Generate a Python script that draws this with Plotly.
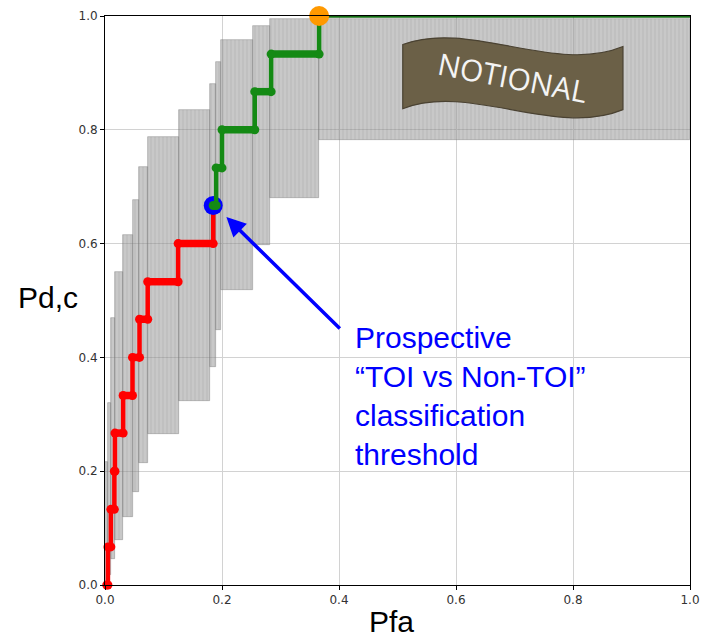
import plotly.graph_objects as go

# ---- data ----
red_pfa = [0.003, 0.005, 0.010, 0.016, 0.017, 0.031, 0.047, 0.059, 0.073, 0.125, 0.185]
red_pd = [0.0, 0.067, 0.133, 0.200, 0.267, 0.333, 0.400, 0.467, 0.533, 0.600, 0.667]

green_pfa = [0.185, 0.190, 0.200, 0.256, 0.284, 0.366, 1.0]
green_pd = [0.667, 0.733, 0.800, 0.867, 0.933, 1.000, 1.000]

band_left = [0.0, 0.0056, 0.011, 0.0166, 0.031, 0.048, 0.058, 0.0735, 0.1265, 0.179, 0.190, 0.199, 0.253, 0.282, 0.366]
band_right = [0.0056, 0.011, 0.0166, 0.031, 0.048, 0.058, 0.0735, 0.1265, 0.179, 0.190, 0.199, 0.253, 0.282, 0.366, 1.0]
band_lower = [0.0, 0.017, 0.045, 0.079, 0.120, 0.164, 0.214, 0.266, 0.323, 0.384, 0.449, 0.519, 0.598, 0.680, 0.782]
band_upper = [0.216, 0.319, 0.470, 0.550, 0.615, 0.677, 0.734, 0.787, 0.835, 0.881, 0.920, 0.957, 0.982, 0.995, 0.995]

threshold_pt = (0.185, 0.667)
best_pt = (0.366, 1.0)

tick_vals = [0.0, 0.2, 0.4, 0.6, 0.8, 1.0]
tick_text = ["0.0", "0.2", "0.4", "0.6", "0.8", "1.0"]

fig = go.Figure()

# confidence band
fig.add_trace(go.Bar(
    x=[(l + r) / 2 for l, r in zip(band_left, band_right)],
    width=[r - l for l, r in zip(band_left, band_right)],
    base=band_lower,
    y=[u - lo for u, lo in zip(band_upper, band_lower)],
    marker=dict(color="rgba(145,145,145,0.5)",
                line=dict(color="rgba(115,115,115,0.55)", width=0.7),
                pattern=dict(shape="|", fgcolor="rgba(100,100,100,0.4)", size=4,
                             solidity=0.2, fillmode="overlay")),
    hoverinfo="skip", showlegend=False))


def horiz_segments(xs, ys, n):
    hx, hy = [], []
    for i in range(n):
        hx += [xs[i], xs[i + 1], None]
        hy += [ys[i], ys[i], None]
    return hx, hy


def end_points(xs, ys, n):
    mx, my = [], []
    for i in range(n):
        mx += [xs[i], xs[i + 1]]
        my += [ys[i], ys[i]]
    return mx, my


# red ROC
fig.add_trace(go.Scatter(x=red_pfa, y=red_pd, mode="lines", line=dict(color="#ff0000", width=4.5, shape="hv"),
                         cliponaxis=False, showlegend=False, hoverinfo="skip"))
hx, hy = horiz_segments(red_pfa, red_pd, len(red_pfa) - 1)
fig.add_trace(go.Scatter(x=hx, y=hy, mode="lines", line=dict(color="#ff0000", width=7.5),
                         cliponaxis=False, showlegend=False, hoverinfo="skip"))
mx, my = end_points(red_pfa, red_pd, len(red_pfa) - 1)
fig.add_trace(go.Scatter(x=mx, y=my, mode="markers", marker=dict(color="#ff0000", size=9),
                         cliponaxis=False, showlegend=False, hoverinfo="skip"))

# threshold point (blue)
fig.add_trace(go.Scatter(x=[threshold_pt[0]], y=[threshold_pt[1]], mode="markers",
                         marker=dict(color="#0000ff", size=19), cliponaxis=False,
                         showlegend=False, hoverinfo="skip"))

# green ROC
fig.add_trace(go.Scatter(x=green_pfa[:-1], y=green_pd[:-1], mode="lines",
                         line=dict(color="#148a14", width=4.5, shape="hv"),
                         cliponaxis=False, showlegend=False, hoverinfo="skip"))
fig.add_trace(go.Scatter(x=green_pfa[-2:], y=green_pd[-2:], mode="lines",
                         line=dict(color="#126b12", width=3.5),
                         cliponaxis=False, showlegend=False, hoverinfo="skip"))
n_g = len(green_pfa) - 2
hx, hy = horiz_segments(green_pfa, green_pd, n_g)
fig.add_trace(go.Scatter(x=hx, y=hy, mode="lines", line=dict(color="#148a14", width=7.5),
                         cliponaxis=False, showlegend=False, hoverinfo="skip"))
mx, my = end_points(green_pfa, green_pd, n_g)
fig.add_trace(go.Scatter(x=mx, y=my, mode="markers", marker=dict(color="#148a14", size=9),
                         cliponaxis=False, showlegend=False, hoverinfo="skip"))

# best point (orange)
fig.add_trace(go.Scatter(x=[best_pt[0]], y=[best_pt[1]], mode="markers",
                         marker=dict(color="#ff9900", size=20), cliponaxis=False,
                         showlegend=False, hoverinfo="skip"))

# NOTIONAL banner
banner_path = ("M 0.509 0.9498 C 0.6237 0.9938 0.7691 0.8970 0.8854 0.9463 "
               "L 0.8854 0.8354 C 0.7691 0.7861 0.6237 0.8830 0.509 0.8371 Z")
fig.add_shape(type="path", path=banner_path, xref="x", yref="y",
              fillcolor="#6b6047", line=dict(color="#4a4232", width=1.2), layer="above")
fig.add_annotation(x=0.697, y=0.892, xref="x", yref="y", text="NOTIONAL", showarrow=False,
                   xanchor="center", yanchor="middle",
                   textangle=11, font=dict(family="Open Sans", size=30, color="#f4f4f4"))

# arrow
fig.add_annotation(x=0.2075, y=0.6466, xref="x", yref="y", ax=0.404, ay=0.448, axref="x", ayref="y",
                   text="", showarrow=True, arrowhead=2, arrowsize=1.1, arrowwidth=3.5,
                   arrowcolor="#0000ff", standoff=0)
fig.add_annotation(x=0.424, y=0.468, xref="x", yref="y", xanchor="left", yanchor="top", align="left",
                   text="Prospective<br>“TOI vs Non-TOI”<br>classification<br>threshold",
                   showarrow=False, font=dict(family="Liberation Sans", size=30, color="#0000ff"))

# axis titles
fig.add_annotation(x=0.489, y=-0.065, xref="paper", yref="paper", text="Pfa", showarrow=False,
                   xanchor="center", yanchor="middle",
                   font=dict(family="Liberation Sans", size=30, color="#000000"))
fig.add_annotation(x=-0.097, y=0.506, xref="paper", yref="paper", text="Pd,c", showarrow=False,
                   xanchor="center", yanchor="middle",
                   font=dict(family="Liberation Sans", size=30, color="#000000"))

axis_common = dict(range=[0, 1], tickvals=tick_vals, ticktext=tick_text, showgrid=True,
                   gridcolor="#d2d2d2", gridwidth=1, zeroline=False, showline=True,
                   linecolor="#000000", linewidth=1, mirror=True, ticks="outside", ticklen=4,
                   tickcolor="#000000", automargin=False,
                   tickfont=dict(family="DejaVu Sans", size=12, color="#333333"))
fig.update_xaxes(**axis_common)
fig.update_yaxes(**axis_common)

fig.update_layout(width=702, height=639, margin=dict(l=105, r=12, t=16, b=54),
                  plot_bgcolor="#ffffff", paper_bgcolor="#ffffff", barmode="overlay", bargap=0,
                  showlegend=False)

fig.write_html("out.html")
